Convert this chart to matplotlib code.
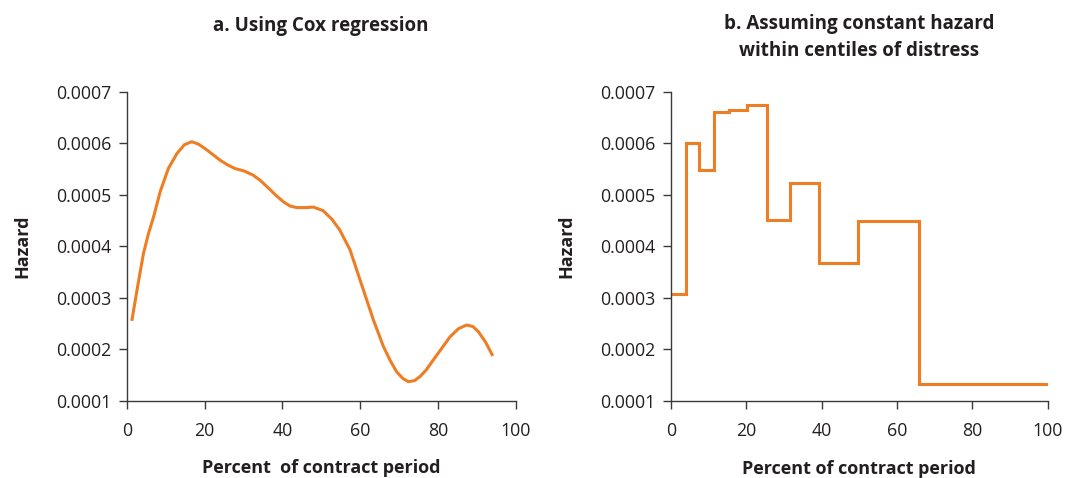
import matplotlib
matplotlib.use("Agg")
import matplotlib.pyplot as plt

# Panel a: Cox regression smoothed hazard
cox_x = [1.3, 2.8, 4.3, 5.6, 6.9, 8.6, 10.7, 12.9, 14.8, 16.7, 18.5, 20.6, 22.3, 24.0,
         25.9, 27.8, 30.2, 32.5, 34.3, 36.0, 38.2, 40.3, 42.0, 43.7, 46.0, 48.0,
         50.5, 52.8, 54.8, 57.4, 60.0, 63.4, 66.0, 67.8, 69.4, 71.0, 72.4, 74.0,
         75.4, 77.0, 78.8, 81.0, 83.1, 85.3, 87.4, 89.0, 90.4, 92.3, 94.1]
cox_y = [0.000255, 0.000322, 0.000386, 0.000425, 0.000457, 0.000506, 0.000551, 0.000580,
         0.000597, 0.000603, 0.000598, 0.000587, 0.000577, 0.000567, 0.000558, 0.000551,
         0.000546, 0.000538, 0.000528, 0.000516, 0.000500, 0.000486, 0.000478, 0.000475,
         0.000475, 0.000476, 0.000469, 0.000452, 0.000431, 0.000393, 0.000334, 0.000257,
         0.000205, 0.000177, 0.000156, 0.000143, 0.000137, 0.000139, 0.000147, 0.000160,
         0.000179, 0.000202, 0.000224, 0.000240, 0.000247, 0.000244, 0.000234, 0.000213,
         0.000187]

# Panel b: constant hazard within centiles
step_edges = [0, 3.9, 7.3, 11.3, 15.5, 20.1, 25.6, 31.7, 39.2, 49.7, 65.9, 76.7, 100]
step_values = [0.000307, 0.000600, 0.000548, 0.000660, 0.000665, 0.000675, 0.000450,
               0.000522, 0.000367, 0.000448, 0.000133, 0.000132]

x_ticks = [0, 20, 40, 60, 80, 100]
y_ticks = [0.0001, 0.0002, 0.0003, 0.0004, 0.0005, 0.0006, 0.0007]
y_tick_labels = ["0.0001", "0.0002", "0.0003", "0.0004", "0.0005", "0.0006", "0.0007"]

title_a = "a. Using Cox regression"
title_b = "b. Assuming constant hazard\nwithin centiles of distress"
xlabel_a = "Percent  of contract period"
xlabel_b = "Percent of contract period"
ylabel = "Hazard"

ORANGE = "#EE7D23"
TXT = "#231F20"

plt.rcParams["font.family"] = ["Open Sans", "DejaVu Sans"]

fig = plt.figure(figsize=(10.66, 4.78), dpi=100)
ax1 = fig.add_axes([0.1189, 0.1617, 0.3649, 0.6464])
ax2 = fig.add_axes([0.6295, 0.1617, 0.3534, 0.6464])

ax1.plot(cox_x, cox_y, color=ORANGE, lw=2.2, solid_capstyle="butt")
ax2.stairs(step_values, step_edges, baseline=None, color=ORANGE, lw=2.2)

for ax, title, xl, lp in [(ax1, title_a, xlabel_a, 14), (ax2, title_b, xlabel_b, 15)]:
    ax.set_xlim(0, 100)
    ax.set_ylim(0.0001, 0.0007)
    ax.set_xticks(x_ticks)
    ax.set_xticklabels([str(t) for t in x_ticks])
    ax.set_yticks(y_ticks)
    ax.set_yticklabels(y_tick_labels)
    ax.spines["top"].set_visible(False)
    ax.spines["right"].set_visible(False)
    for s in ("left", "bottom"):
        ax.spines[s].set_color("#3a3a3a")
        ax.spines[s].set_linewidth(1.0)
    ax.tick_params(axis="both", direction="out", length=6, width=1.0, color="#3a3a3a",
                   labelsize=12.8, labelcolor=TXT, pad=5)
    ax.tick_params(axis="x", pad=9)
    ax.set_xlabel(xl, fontsize=13, fontweight="bold", color=TXT, labelpad=lp)
    ax.set_ylabel(ylabel, fontsize=13, fontweight="bold", color=TXT, labelpad=18)

ax1.set_title(title_a, fontsize=13.5, fontweight="bold", color=TXT, pad=44)
ax2.set_title(title_b, fontsize=13.5, fontweight="bold", color=TXT, pad=26, linespacing=1.45)

fig.savefig("out.png", dpi=100)
